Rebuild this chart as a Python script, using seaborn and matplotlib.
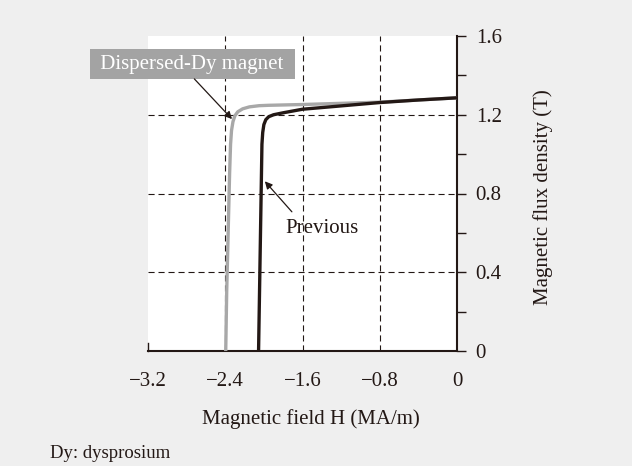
import matplotlib
matplotlib.use("Agg")
import matplotlib.pyplot as plt
import seaborn as sns
import pandas as pd
from matplotlib.ticker import MultipleLocator

# ---- data ----
H_dispersed = [-2.395, -2.385, -2.37, -2.355, -2.345, -2.335, -2.32, -2.30, -2.27, -2.22, -2.15, -2.05,
               -1.95, -1.6, -1.2, -0.8, -0.4, 0.0]
B_dispersed = [0.0, 0.3, 0.6, 0.9, 1.05, 1.12, 1.165, 1.195, 1.215, 1.23, 1.24, 1.246,
               1.248, 1.252, 1.258, 1.264, 1.275, 1.286]
H_previous = [-2.055, -2.045, -2.035, -2.025, -2.02, -2.012, -2.0, -1.98, -1.95, -1.90, -1.80,
              -1.6, -1.2, -0.8, -0.4, 0.0]
B_previous = [0.0, 0.3, 0.6, 0.9, 1.05, 1.11, 1.15, 1.175, 1.19, 1.2, 1.21,
              1.228, 1.245, 1.262, 1.275, 1.286]

x_ticks = [-3.2, -2.4, -1.6, -0.8, 0.0]
x_tick_labels = ["\u22123.2", "\u22122.4", "\u22121.6", "\u22120.8", "0"]
y_ticks = [0.0, 0.4, 0.8, 1.2, 1.6]
y_tick_labels = ["0", "0.4", "0.8", "1.2", "1.6"]
x_grid = [-2.4, -1.6, -0.8]
y_grid = [0.4, 0.8, 1.2]

label_dispersed = "Dispersed-Dy magnet"
label_previous = "Previous"
x_label = "Magnetic field H (MA/m)"
y_label = "Magnetic flux density (T)"
footnote = "Dy: dysprosium"

# ---- style ----
sns.set_theme(style="white")
plt.rcParams["font.family"] = ["Liberation Serif", "DejaVu Serif"]
plt.rcParams["axes.unicode_minus"] = True
ink = "#231815"
bg = "#efefef"

fig = plt.figure(figsize=(6.32, 4.66), dpi=100, facecolor=bg)
ax = fig.add_axes([148 / 632, 1 - 351 / 466, 309 / 632, 315 / 466])
ax.set_facecolor("white")

# grid lines
for gx in x_grid:
    ax.axvline(gx, color=ink, lw=0.8, ls=(0, (5.5, 3.5)), zorder=1)
for gy in y_grid:
    ax.axhline(gy, color=ink, lw=0.8, ls=(0, (5.5, 3.5)), zorder=1)

df_d = pd.DataFrame({"H": H_dispersed, "B": B_dispersed})
df_p = pd.DataFrame({"H": H_previous, "B": B_previous})
sns.lineplot(data=df_d, x="H", y="B", sort=False, estimator=None, color="#a8a8a8", lw=2.4, ax=ax, zorder=3)
sns.lineplot(data=df_p, x="H", y="B", sort=False, estimator=None, color=ink, lw=2.4, ax=ax, zorder=4)

ax.set_xlim(-3.2, 0)
ax.set_ylim(0, 1.6)

# spines
ax.spines["top"].set_visible(False)
ax.spines["left"].set_bounds(0, 0.04)
for s in ["left", "bottom", "right"]:
    ax.spines[s].set_color(ink)
    ax.spines[s].set_linewidth(1.5)
ax.spines["left"].set_linewidth(1.0)

# ticks
ax.set_xticks(x_ticks)
ax.set_xticklabels(x_tick_labels)
ax.tick_params(axis="x", length=0, pad=15, labelsize=15, labelcolor=ink)
ax.yaxis.tick_right()
ax.yaxis.set_label_position("right")
ax.set_yticks(y_ticks)
ax.set_yticklabels(y_tick_labels)
ax.yaxis.set_minor_locator(MultipleLocator(0.2))
ax.tick_params(axis="y", which="both", right=True, left=False, direction="out",
               length=6.5, width=1.0, color=ink, pad=7, labelsize=15, labelcolor=ink)

ax.set_xlabel(x_label, fontsize=15, color=ink)
ax.xaxis.set_label_coords((311 - 148) / 309, (351 - 419) / 315)
ax.xaxis.label.set_verticalalignment("center")
ax.set_ylabel(y_label, fontsize=15, color=ink)
ax.yaxis.set_label_coords((543 - 148) / 309, 0.49)
ax.yaxis.label.set_verticalalignment("center")

# annotations
ax.text(-2.743, 1.457, " " + label_dispersed + " ", ha="center", va="center", fontsize=15, color="white",
        bbox=dict(boxstyle="square,pad=0.27", facecolor="#a3a3a3", edgecolor="none"),
        clip_on=False, zorder=6)
ax.annotate("", xy=(-2.33, 1.178), xytext=(-2.72, 1.382), annotation_clip=False,
            arrowprops=dict(arrowstyle="-|>", color=ink, lw=0.9, mutation_scale=11, shrinkA=0, shrinkB=0),
            zorder=6)
ax.text(-1.40, 0.624, label_previous, ha="center", va="center", fontsize=15, color=ink, zorder=6)
ax.annotate("", xy=(-1.99, 0.862), xytext=(-1.71, 0.707),
            arrowprops=dict(arrowstyle="-|>", color=ink, lw=0.9, mutation_scale=11, shrinkA=0, shrinkB=0),
            zorder=6)

fig.text(50 / 632, 1 - 453 / 466, footnote, ha="left", va="center", fontsize=13.5, color=ink)

fig.savefig("out.png", dpi=100, facecolor=bg)
